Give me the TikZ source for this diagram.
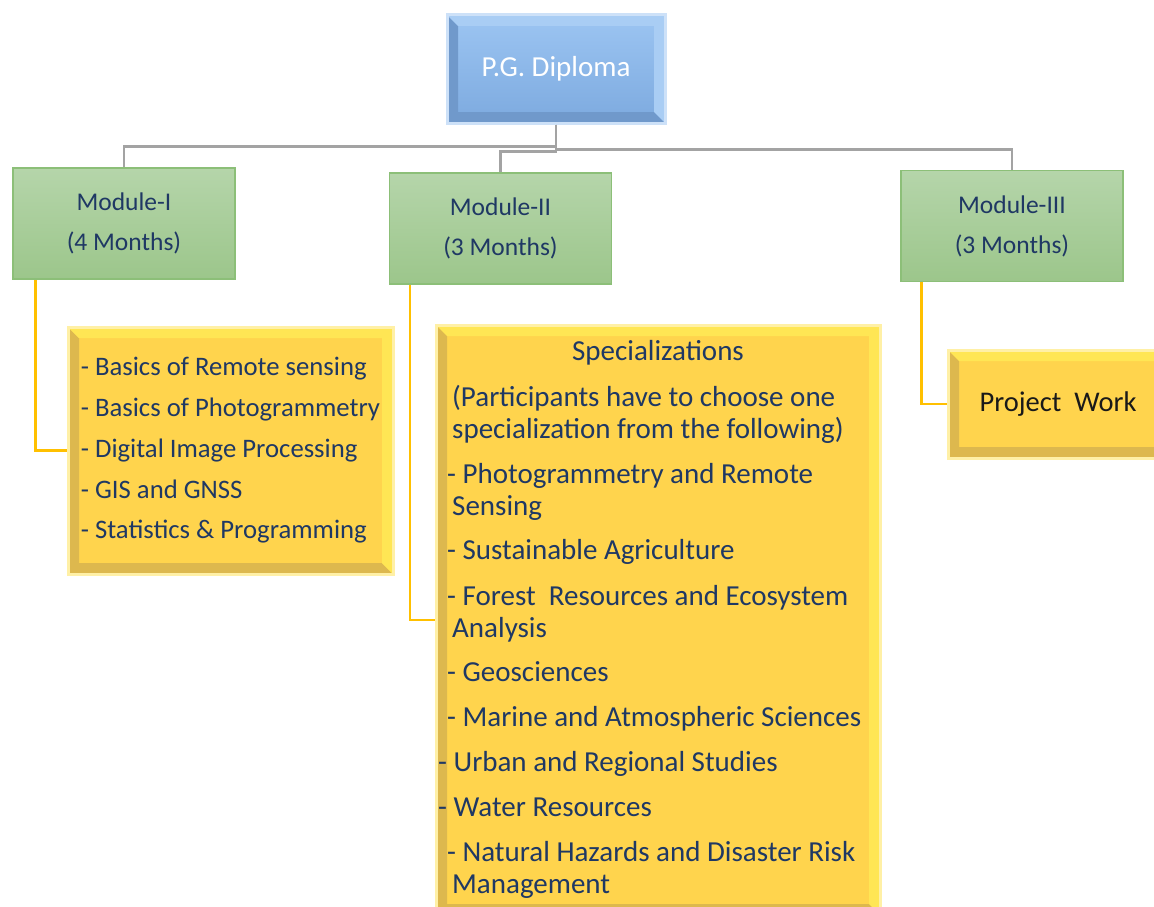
\documentclass[tikz,border=0pt]{standalone}
\usepackage{fontspec}
\setmainfont{Carlito}
\usepackage{tikz}
\usetikzlibrary{positioning,calc}

\definecolor{navytext}{HTML}{1F3864}
\definecolor{linkgray}{HTML}{A3A3A3}
\definecolor{linkgold}{HTML}{FFC000}
\definecolor{bluetop}{HTML}{9CC5F2}
\definecolor{bluebot}{HTML}{7DAADF}
\definecolor{blueglow}{HTML}{CDE1F8}
\definecolor{bluedark}{HTML}{7099CB}
\definecolor{bluelight}{HTML}{A9CDF4}
\definecolor{greentop}{HTML}{B5D5AA}
\definecolor{greenbot}{HTML}{9CC68B}
\definecolor{greenedge}{HTML}{8CBF78}
\definecolor{goldfill}{HTML}{FFD44D}
\definecolor{golddark}{HTML}{DDB84E}
\definecolor{goldlight}{HTML}{FFE654}
\definecolor{goldglow}{HTML}{FFF0A6}

\tikzset{
  bevel/.style 2 args={path picture={
    \coordinate (bsw) at (path picture bounding box.south west);
    \coordinate (bne) at (path picture bounding box.north east);
    \coordinate (bnw) at (bsw |- bne);
    \coordinate (bse) at (bne |- bsw);
    % dark sides (left, bottom)
    \fill[#1] (bnw) -- (bsw) -- (bse) -- ([shift={(-11pt,11pt)}]bse)
      -- ([shift={(11pt,11pt)}]bsw) -- ([shift={(11pt,-11pt)}]bnw) -- cycle;
    % light sides (top, right)
    \fill[#2] (bnw) -- (bne) -- (bse) -- ([shift={(-11pt,11pt)}]bse)
      -- ([shift={(-11pt,-11pt)}]bne) -- ([shift={(11pt,-11pt)}]bnw) -- cycle;
  }},
}

\begin{document}
\begin{tikzpicture}[
  x=1pt, y=-1pt,
  topbox/.style={draw=blueglow, line width=3pt, top color=bluetop, bottom color=bluebot,
    bevel={bluedark}{bluelight}, minimum width=218pt, minimum height=108pt,
    text=white, font=\fontsize{29}{34}\selectfont},
  modbox/.style={draw=greenedge, line width=1.5pt, top color=greentop, bottom color=greenbot,
    minimum width=222pt, minimum height=111pt, align=center, text=navytext,
    font=\fontsize{25.5}{40}\selectfont},
  listbox/.style={draw=goldglow, line width=3pt, fill=goldfill,
    bevel={golddark}{goldlight}, text=navytext},
  listtext/.style={align=left, inner sep=0pt, text=navytext},
  graylink/.style={draw=linkgray, line width=2.5pt},
  goldlink/.style={draw=linkgold, line width=2.5pt},
]
\useasboundingbox (0,0) rectangle (1154,907);
\clip (0,0) rectangle (1154,907);

% Top of the tree
\node[topbox] (diploma) at (556,69) {P.G. Diploma};

% Modules
\node[modbox] (mod1) at (124,223.5) {Module-I\\(4 Months)};
\node[modbox] (mod2) at (500.5,228.5) {Module-II\\(3 Months)};
\node[modbox] (mod3) at (1012,226) {Module-III\\(3 Months)};

\draw[graylink] (diploma.south) -- ++(0,22) -| (mod1.north);
\draw[graylink] (diploma.south) -- ++(0,25) -| (mod3.north);
\draw[graylink] (diploma.south) -- ++(0,27) -| (mod2.north);

% Module-I contents
\node[listbox, minimum width=325pt, minimum height=247pt, align=left,
  font=\fontsize{26.7}{40.7}\selectfont] (list1) at (230.5,450.5) {
- Basics of Remote sensing\\
- Basics of Photogrammetry\\
- Digital Image Processing\\
- GIS and GNSS\\
- Statistics \& Programming};

% Module-II contents
\node[listbox, minimum width=444pt, minimum height=590pt] (spec) at (658,620) {};
\node[text=navytext, font=\fontsize{29}{32}\selectfont] (spectitle) at (658,353) {Specializations};
\node[listtext, anchor=north west, font=\fontsize{29}{32}\selectfont] (speclist) at (452,385) {
(Participants have to choose one\\
specialization from the following)\\[13pt]
\hspace*{-5pt}- Photogrammetry and Remote\\
Sensing\\[12pt]
\hspace*{-5pt}- Sustainable Agriculture\\[14pt]
\hspace*{-5pt}- Forest\ \ Resources and Ecosystem\\
Analysis\\[12pt]
\hspace*{-5pt}- Geosciences\\[13pt]
\hspace*{-5pt}- Marine and Atmospheric Sciences\\[13pt]
\hspace*{-14pt}- Urban and Regional Studies\\[13pt]
\hspace*{-14pt}- Water Resources\\[13pt]
\hspace*{-5pt}- Natural Hazards and Disaster Risk\\
Management};

% Module-III contents
\node[listbox, minimum width=220pt, minimum height=108pt, text=black!90,
  font=\fontsize{28.5}{32}\selectfont] (proj) at (1058,404) {Project\ \ Work};

\draw[goldlink] ([xshift=23pt]mod1.south west) |- (list1.west);
\draw[goldlink] ([xshift=21pt]mod2.south west) |- (spec.west);
\draw[goldlink] ([xshift=21pt]mod3.south west) |- (proj.west);
\end{tikzpicture}
\end{document}
